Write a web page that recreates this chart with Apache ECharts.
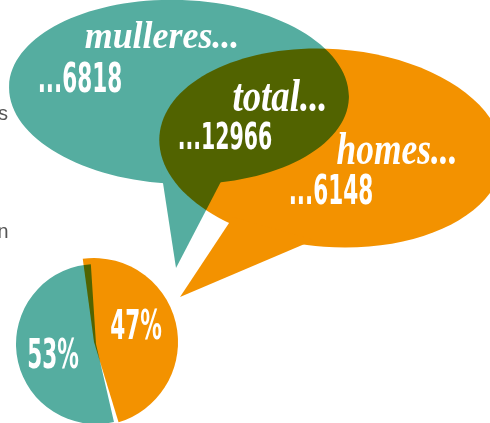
<!DOCTYPE html>
<html>
<head>
<meta charset="utf-8">
<script src="https://cdn.jsdelivr.net/npm/echarts@6/dist/echarts.min.js"></script>
<style>
html, body { margin: 0; padding: 0; background: #ffffff; }
#wrap { position: relative; width: 490px; height: 423px; overflow: hidden; background: #ffffff; isolation: isolate; }
.layer { position: absolute; left: 0; top: 0; width: 490px; height: 423px; }
#orangeLayer { mix-blend-mode: multiply; }
</style>
</head>
<body>
<div id="wrap">
  <div id="tealLayer" class="layer"></div>
  <div id="orangeLayer" class="layer"></div>
  <div id="textLayer" class="layer"></div>
</div>
<script>
// ---- data ----
const categories = ['mulleres', 'homes'];
const values = [6818, 6148];
const totalValue = [12966];
const bubbleTitles = ['mulleres...', 'homes...', 'total...'];
const sideLetters = ['s', 'n'];
const colors = ['#55ADA0', '#F39200'];

const NARROW = '"DejaVu Sans Condensed","DejaVu Sans",sans-serif';
const SCRIPT = '"Liberation Serif","DejaVu Serif",serif';
const CLEAR = 'rgba(0,0,0,0)';

function pieSeries(center, radius, startAngle, visibleIndex) {
  return {
    type: 'pie',
    center: center,
    radius: [0, radius],
    startAngle: startAngle,
    clockwise: true,
    silent: true,
    animation: false,
    avoidLabelOverlap: false,
    data: categories.map((c, i) => ({
      name: c,
      value: values[i],
      itemStyle: { color: i === visibleIndex ? colors[i] : CLEAR, borderWidth: 0 }
    })),
    label: { show: false },
    labelLine: { show: false },
    emphasis: { disabled: true }
  };
}

const tealPie = { center: [96, 344], radius: 80, start: 283 };
const orangePie = { center: [94, 342], radius: 84, start: 287 };

// ---- teal layer ----
const tealChart = echarts.init(document.getElementById('tealLayer'), null, { renderer: 'canvas' });
tealChart.setOption({
  animation: false,
  graphic: [
    { type: 'ellipse', x: 179, y: 92, rotation: -0.035, shape: { cx: 0, cy: 0, rx: 170, ry: 92 }, style: { fill: colors[0] }, silent: true },
    { type: 'polygon', shape: { points: [[161, 170], [176, 268], [227, 170]] }, style: { fill: colors[0] }, silent: true }
  ],
  series: [pieSeries(tealPie.center, tealPie.radius, tealPie.start, 0)]
});

// ---- orange layer (multiplied over teal) ----
const orangeChart = echarts.init(document.getElementById('orangeLayer'), null, { renderer: 'canvas' });
orangeChart.setOption({
  animation: false,
  graphic: [
    { type: 'ellipse', x: 331, y: 148, rotation: -0.07, shape: { cx: 0, cy: 0, rx: 172, ry: 99 }, style: { fill: colors[1] }, silent: true },
    { type: 'polygon', shape: { points: [[233, 217], [180, 297], [314, 240]] }, style: { fill: colors[1] }, silent: true }
  ],
  series: [pieSeries(orangePie.center, orangePie.radius, orangePie.start, 1)]
});

// ---- text layer ----
function txt(x, y, text, font, opts) {
  opts = opts || {};
  const align = opts.align || 'center';
  return {
    type: 'text', x: x, y: y, silent: true,
    scaleX: opts.scaleX || 1,
    style: {
      text: text, fill: opts.color || '#ffffff', font: font,
      textAlign: align, textVerticalAlign: 'middle',
      align: align, verticalAlign: 'middle'
    }
  };
}
const sum = values[0] + values[1];
const pct = values.map(v => Math.round(v / sum * 100) + '%');
const NUM = 'bold 40px ' + NARROW;
const SQ = 0.6;

const textChart = echarts.init(document.getElementById('textLayer'), null, { renderer: 'canvas' });
textChart.setOption({
  animation: false,
  graphic: [
    txt(162, 38, bubbleTitles[0], 'italic bold 37px ' + SCRIPT, { scaleX: 0.97 }),
    txt(80, 82, '...' + values[0], NUM, { scaleX: SQ }),
    txt(280, 99, bubbleTitles[2], 'italic bold 46px ' + SCRIPT, { scaleX: 0.8 }),
    txt(225, 139, '...' + totalValue[0], 'bold 38px ' + NARROW, { scaleX: SQ }),
    txt(397, 152, bubbleTitles[1], 'italic bold 46px ' + SCRIPT, { scaleX: 0.77 }),
    txt(331, 194, '...' + values[1], NUM, { scaleX: SQ }),
    txt(53, 358, pct[0], NUM, { scaleX: SQ }),
    txt(136, 329, pct[1], NUM, { scaleX: SQ }),
    txt(9, 115, sideLetters[0], '20px "Liberation Mono",monospace', { align: 'right', color: '#555555' }),
    txt(9, 233, sideLetters[1], '20px "Liberation Mono",monospace', { align: 'right', color: '#555555' })
  ]
});
</script>
</body>
</html>
